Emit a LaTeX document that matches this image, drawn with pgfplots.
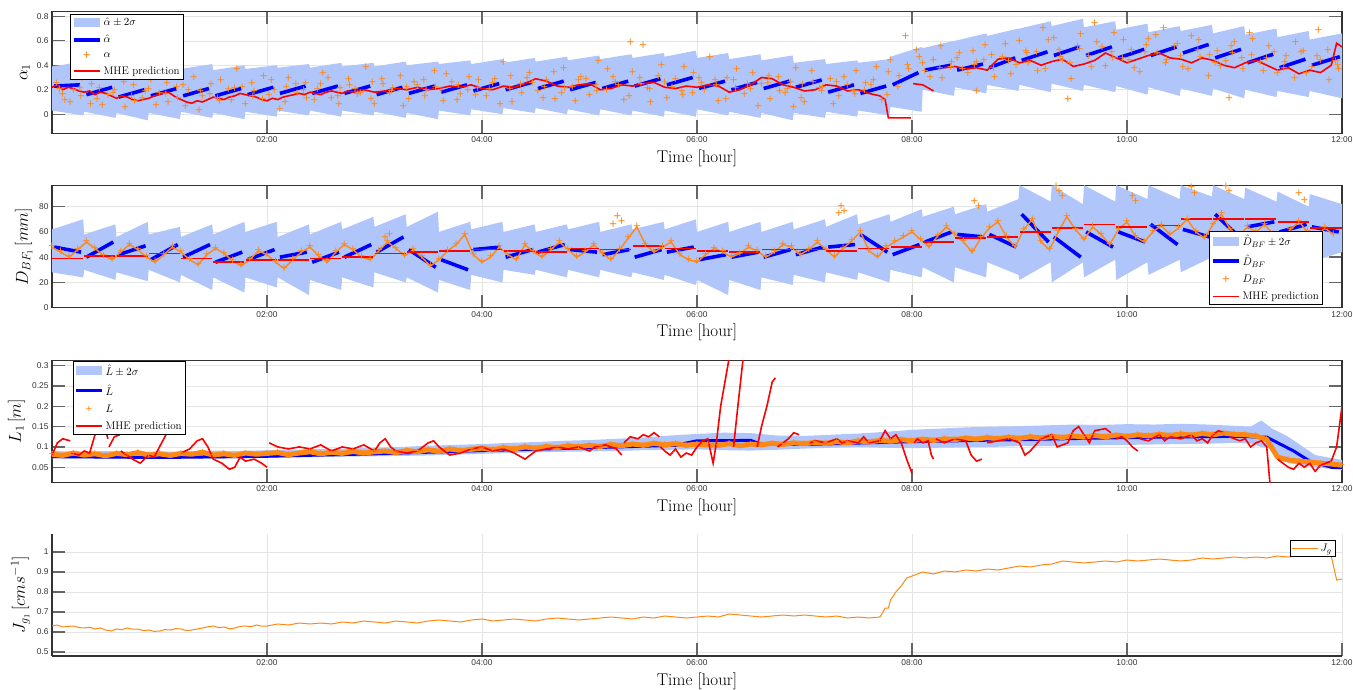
\documentclass[border=0pt]{standalone}
\usepackage{fontspec}
\usepackage{pgfplots}
\usepackage{pgfplotstable}
\pgfplotsset{compat=1.18}
\newfontfamily\ticksf{Liberation Sans}
\definecolor{bandblue}{RGB}{176,198,250}
\definecolor{mblue}{RGB}{0,0,255}
\definecolor{mred}{RGB}{255,0,0}
\definecolor{morange}{RGB}{255,135,20}
\definecolor{morangeB}{RGB}{255,136,21}
\newcommand\omark{\textcolor{morange}{\ticksf\fontsize{13}{13}\selectfont +}}
\newcommand\osmall{\textcolor{morange}{\ticksf\fontsize{10.5}{11}\selectfont +}}

\pgfplotsset{
  panel/.style={
    scale only axis, width=1290pt, height=122pt,
    xmin=0, xmax=12,
    xtick={2,4,6,8,10,12},
    xticklabels={02:00,04:00,06:00,08:00,10:00,12:00},
    tick align=inside,
    major tick length=13pt,
    major tick style={line width=1.4pt, draw=black!60},
    axis line style={line width=1.2pt, draw=black!80},
    grid=major,
    major grid style={line width=0.5pt, draw=black!10},
    ticklabel style={font=\ticksf\fontsize{8.4}{9}\selectfont, text=black!80},
    /pgf/number format/assume math mode=true,
    scaled y ticks=false,
    xlabel={Time [hour]},
    label style={font=\fontsize{17}{18}\selectfont},
    unbounded coords=jump,
    legend style={font=\fontsize{11}{12}\selectfont, draw=black, line width=0.8pt,
      fill=white, inner sep=1.5pt, row sep=4pt, cells={anchor=west}},
    legend image code/.code={\draw[#1] plot coordinates {(0pt,0pt) (13pt,0pt) (26pt,0pt)};},
  },
  bandleg/.style={legend image code/.code={\fill[fill=bandblue] (0pt,-4.5pt) rectangle (26pt,4.5pt);}},
  markleg/.style={legend image code/.code={\draw[#1] plot coordinates {(13pt,0pt)};}},
  estline/.style={draw=mblue, line width=3.6pt},
  mheline/.style={draw=mred, line width=1.6pt},
  meas/.style={only marks, mark=text, text mark={\omark}, markleg},
  smallmeas/.style={only marks, mark=text, text mark={\osmall}, markleg},
}

\pgfplotstableread{
t L
0 0.082
0.1 0.079
0.2 0.085
0.3 0.080
0.4 0.083
0.5 0.078
0.6 0.084
0.7 0.081
0.8 0.086
0.9 0.080
1.0 0.083
1.1 0.079
1.2 0.084
1.3 0.082
1.4 0.087
1.5 0.080
1.6 0.083
1.7 0.079
1.8 0.085
1.9 0.082
2.0 0.084
2.1 0.086
2.2 0.081
2.3 0.085
2.4 0.088
2.5 0.083
2.6 0.087
2.7 0.084
2.8 0.089
2.9 0.085
3.0 0.088
3.1 0.090
3.2 0.086
3.3 0.091
3.4 0.088
3.5 0.093
3.6 0.089
3.7 0.095
3.8 0.091
3.9 0.094
4.0 0.097
4.1 0.093
4.2 0.098
4.3 0.095
4.4 0.100
4.5 0.097
4.6 0.101
4.7 0.098
4.8 0.103
4.9 0.100
5.0 0.104
5.1 0.101
5.2 0.106
5.3 0.103
5.4 0.107
5.5 0.104
5.6 0.109
5.7 0.105
5.8 0.108
5.9 0.104
6.0 0.107
6.1 0.105
6.2 0.104
6.3 0.108
6.4 0.103
6.5 0.107
6.6 0.105
6.7 0.109
6.8 0.106
6.9 0.110
7.0 0.108
7.1 0.111
7.2 0.109
7.3 0.113
7.4 0.110
7.5 0.115
7.6 0.112
7.7 0.116
7.8 0.114
7.9 0.118
8.0 0.115
8.1 0.119
8.2 0.116
8.3 0.120
8.4 0.118
8.5 0.122
8.6 0.119
8.7 0.123
8.8 0.120
8.9 0.124
9.0 0.121
9.1 0.125
9.2 0.122
9.3 0.126
9.4 0.123
9.5 0.127
9.6 0.124
9.7 0.128
9.8 0.125
9.9 0.129
10.0 0.126
10.1 0.130
10.2 0.127
10.3 0.131
10.4 0.128
10.5 0.132
10.6 0.129
10.7 0.133
10.8 0.130
10.9 0.134
11.0 0.131
11.1 0.130
11.2 0.127
11.3 0.118
11.4 0.075
11.5 0.068
11.6 0.065
11.7 0.063
11.8 0.060
11.9 0.058
12.0 0.055
}\Ltable

\pgfplotstableread{
t D
0 48
0.08 44
0.16 40
0.24 46
0.32 52
0.40 47
0.48 41
0.56 38
0.64 44
0.72 50
0.80 46
0.88 40
0.96 36
1.04 42
1.12 48
1.20 44
1.28 38
1.36 34
1.44 42
1.52 47
1.60 43
1.68 37
1.76 33
1.84 38
1.92 45
2.00 42
2.08 36
2.16 31
2.24 38
2.32 44
2.40 48
2.48 41
2.56 36
2.64 44
2.72 50
2.80 46
2.88 40
2.96 38
3.04 45
3.12 52
3.20 47
3.28 41
3.36 46
3.44 40
3.52 33
3.60 38
3.68 45
3.76 50
3.84 58
3.92 42
4.00 36
4.08 40
4.16 48
4.24 42
4.32 38
4.40 50
4.48 44
4.56 40
4.64 46
4.72 52
4.80 46
4.88 40
4.96 44
5.04 50
5.12 43
5.20 38
5.28 46
5.36 55
5.44 64
5.52 50
5.60 44
5.68 48
5.76 52
5.84 42
5.92 38
6.00 36
6.08 42
6.16 47
6.24 44
6.32 40
6.40 43
6.48 48
6.56 45
6.64 40
6.72 44
6.80 50
6.88 48
6.96 42
7.04 46
7.12 52
7.20 46
7.28 40
7.36 47
7.44 53
7.52 60
7.60 45
7.68 40
7.76 48
7.84 52
7.92 56
8.00 60
8.08 54
8.16 48
8.24 57
8.32 64
8.40 58
8.48 52
8.56 44
8.64 55
8.72 63
8.80 68
8.88 56
8.96 48
9.04 62
9.12 70
9.20 52
9.28 46
9.36 60
9.44 72
9.52 62
9.60 54
9.68 64
9.76 58
9.84 50
9.92 62
10.00 68
10.08 56
10.16 52
10.24 60
10.32 65
10.40 58
10.48 63
10.56 70
10.64 60
10.72 55
10.80 66
10.88 74
10.96 62
11.04 57
11.12 64
11.20 60
11.28 66
11.36 58
11.44 54
11.52 62
11.60 68
11.68 60
11.76 56
11.84 63
11.92 58
}\Dtable

\begin{document}
\begin{tikzpicture}
\useasboundingbox (0,0) rectangle (1353pt,689pt);

% ---------------- alpha ----------------
\begin{axis}[panel, at={(52pt,555.7pt)}, anchor=south west,
  ymin=-0.156, ymax=0.841,
  ytick={0,0.2,0.4,0.6,0.8}, yticklabels={0,0.2,0.4,0.6,0.8},
  ylabel={$\alpha_1$},
  legend style={at={(0.014,0.975)}, anchor=north west}]
\addplot[draw=none, fill=bandblue, bandleg] coordinates {
(0,0.39)(0.29,0.43)(0.3,0.37)(0.59,0.41)(0.6,0.36)(0.89,0.40)(0.9,0.37)(1.19,0.40)(1.2,0.37)(1.49,0.41)
(1.5,0.36)(1.79,0.40)(1.8,0.37)(2.09,0.40)(2.1,0.38)(2.39,0.41)(2.4,0.38)(2.69,0.42)(2.7,0.39)(2.99,0.42)
(3.0,0.39)(3.29,0.43)(3.3,0.40)(3.59,0.43)(3.6,0.41)(3.89,0.44)(3.9,0.41)(4.19,0.45)(4.2,0.42)(4.49,0.46)
(4.5,0.43)(4.79,0.47)(4.8,0.44)(5.09,0.48)(5.1,0.45)(5.39,0.49)(5.4,0.46)(5.69,0.50)(5.7,0.47)(5.99,0.52)
(6.0,0.46)(6.29,0.50)(6.3,0.45)(6.59,0.49)(6.6,0.44)(6.89,0.48)(6.9,0.42)(7.19,0.45)(7.2,0.41)(7.49,0.44)
(7.5,0.42)(7.79,0.45)(7.8,0.47)(8.09,0.55)(8.1,0.54)(8.39,0.60)(8.4,0.60)(8.69,0.66)(8.7,0.64)(8.99,0.70)
(9.0,0.70)(9.29,0.76)(9.3,0.72)(9.59,0.78)(9.6,0.71)(9.89,0.76)(9.9,0.69)(10.19,0.74)(10.2,0.67)(10.49,0.72)
(10.5,0.68)(10.79,0.73)(10.8,0.66)(11.09,0.72)(11.1,0.65)(11.39,0.70)(11.4,0.63)(11.69,0.68)(11.7,0.61)(12,0.66)
(12,0.13)(11.7,0.19)(11.69,0.14)(11.4,0.19)(11.39,0.14)(11.1,0.20)(11.09,0.13)(10.8,0.21)(10.79,0.15)(10.5,0.21)
(10.49,0.15)(10.2,0.22)(10.19,0.16)(9.9,0.23)(9.89,0.18)(9.6,0.24)(9.59,0.19)(9.3,0.25)(9.29,0.18)(9.0,0.24)
(8.99,0.19)(8.7,0.24)(8.69,0.17)(8.4,0.22)(8.39,0.15)(8.1,0.20)(8.09,0.02)(7.8,0.06)(7.79,-0.01)(7.5,0.03)
(7.49,-0.02)(7.2,0.02)(7.19,-0.03)(6.9,0.01)(6.89,-0.05)(6.6,0.01)(6.59,-0.03)(6.3,0.02)(6.29,-0.01)(6.0,0.04)
(5.99,-0.02)(5.7,0.03)(5.69,-0.02)(5.4,0.03)(5.39,-0.01)(5.1,0.04)(5.09,-0.01)(4.8,0.04)(4.79,0.00)(4.5,0.05)
(4.49,0.01)(4.2,0.05)(4.19,0.00)(3.9,0.04)(3.89,-0.01)(3.6,0.03)(3.59,-0.04)(3.3,0.01)(3.29,-0.03)(3.0,0.02)
(2.99,-0.01)(2.7,0.03)(2.69,-0.02)(2.4,0.03)(2.39,-0.01)(2.1,0.03)(2.09,-0.02)(1.8,0.02)(1.79,-0.04)(1.5,0.01)
(1.49,-0.03)(1.2,0.02)(1.19,-0.04)(0.9,0.01)(0.89,-0.05)(0.6,0.01)(0.59,-0.03)(0.3,0.02)(0.29,-0.01)(0,0.03)
};
\addlegendentry{$\hat{\alpha}\pm 2\sigma$}
\addplot[estline] coordinates {
(0.02,0.23)(0.26,0.24)(0.27,nan)(0.32,0.16)(0.56,0.22)(0.57,nan)(0.62,0.14)(0.86,0.20)(0.87,nan)
(0.92,0.15)(1.16,0.21)(1.17,nan)(1.22,0.15)(1.46,0.21)(1.47,nan)(1.52,0.15)(1.76,0.21)(1.77,nan)
(1.82,0.16)(2.06,0.22)(2.07,nan)(2.12,0.17)(2.36,0.23)(2.37,nan)(2.42,0.17)(2.66,0.23)(2.67,nan)
(2.72,0.17)(2.96,0.23)(2.97,nan)(3.02,0.16)(3.26,0.22)(3.27,nan)(3.32,0.17)(3.56,0.23)(3.57,nan)
(3.62,0.18)(3.86,0.24)(3.87,nan)(3.92,0.19)(4.16,0.25)(4.17,nan)(4.22,0.20)(4.46,0.26)(4.47,nan)
(4.52,0.21)(4.76,0.27)(4.77,nan)(4.82,0.20)(5.06,0.26)(5.07,nan)(5.12,0.21)(5.36,0.27)(5.37,nan)
(5.42,0.23)(5.66,0.29)(5.67,nan)(5.72,0.24)(5.96,0.30)(5.97,nan)(6.02,0.21)(6.26,0.27)(6.27,nan)
(6.32,0.20)(6.56,0.26)(6.57,nan)(6.62,0.21)(6.86,0.27)(6.87,nan)(6.92,0.22)(7.16,0.28)(7.17,nan)
(7.22,0.18)(7.46,0.24)(7.47,nan)(7.52,0.17)(7.76,0.23)(7.77,nan)(7.82,0.24)(8.06,0.34)(8.07,nan)
(8.12,0.36)(8.36,0.40)(8.37,nan)(8.42,0.36)(8.66,0.41)(8.67,nan)(8.72,0.38)(8.96,0.46)(8.97,nan)
(9.02,0.44)(9.26,0.51)(9.27,nan)(9.32,0.48)(9.56,0.55)(9.57,nan)(9.62,0.48)(9.86,0.55)(9.87,nan)
(9.92,0.46)(10.16,0.53)(10.17,nan)(10.22,0.48)(10.46,0.55)(10.47,nan)(10.52,0.50)(10.76,0.57)(10.77,nan)
(10.82,0.46)(11.06,0.53)(11.07,nan)(11.12,0.42)(11.36,0.49)(11.37,nan)(11.42,0.38)(11.66,0.45)(11.67,nan)
(11.72,0.40)(11.98,0.47)
};
\addlegendentry{$\hat{\alpha}$}
\addplot[meas] coordinates {
(0.04,0.25)(0.12,0.11)(0.20,0.19)(0.28,0.29)(0.36,0.08)(0.44,0.21)(0.52,0.15)(0.60,0.32)(0.68,0.05)(0.76,0.23)
(0.84,0.13)(0.92,0.27)(1.00,0.17)(1.08,0.09)(1.16,0.22)(1.24,0.06)(1.32,0.30)(1.40,0.14)(1.48,0.24)(1.56,0.10)
(1.64,0.20)(1.72,0.36)(1.80,0.08)(1.88,0.18)(1.96,0.12)(2.04,0.27)(2.12,0.04)(2.20,0.29)(2.28,0.17)(2.36,0.25)
(2.44,0.11)(2.52,0.33)(2.60,0.13)(2.68,0.21)(2.76,0.28)(2.84,0.16)(2.92,0.38)(3.00,0.08)(3.08,0.24)(3.16,0.18)
(3.24,0.31)(3.32,0.12)(3.40,0.23)(3.48,0.19)(3.56,0.35)(3.64,0.10)(3.72,0.26)(3.80,0.16)(3.88,0.30)(3.96,0.21)
(4.04,0.14)(4.12,0.28)(4.20,0.42)(4.28,0.09)(4.36,0.24)(4.44,0.33)(4.52,0.18)(4.60,0.27)(4.68,0.12)(4.76,0.37)
(4.84,0.22)(4.92,0.30)(5.00,0.15)(5.08,0.43)(5.16,0.19)(5.24,0.26)(5.32,0.11)(5.40,0.34)(5.48,0.24)(5.56,0.20)
(5.64,0.31)(5.72,0.13)(5.80,0.28)(5.88,0.38)(5.96,0.17)(6.04,0.25)(6.12,0.46)(6.20,0.10)(6.28,0.29)(6.36,0.21)
(6.44,0.16)(6.52,0.33)(6.60,0.24)(6.68,0.12)(6.76,0.30)(6.84,0.20)(6.92,0.37)(7.00,0.09)(7.08,0.26)(7.16,0.18)
(7.24,0.28)(7.32,0.14)(7.40,0.23)(7.48,0.35)(7.56,0.19)(7.64,0.27)(7.72,0.11)(7.80,0.44)(7.88,0.31)(7.96,0.40)
(8.04,0.52)(8.12,0.35)(8.20,0.44)(8.28,0.29)(8.36,0.38)(8.44,0.49)(8.52,0.33)(8.60,0.42)(8.68,0.56)(8.76,0.37)
(8.84,0.46)(8.92,0.32)(9.00,0.59)(9.08,0.41)(9.16,0.50)(9.24,0.36)(9.32,0.62)(9.40,0.44)(9.48,0.28)(9.56,0.53)
(9.64,0.47)(9.72,0.58)(9.80,0.39)(9.88,0.66)(9.96,0.45)(10.04,0.52)(10.12,0.34)(10.20,0.61)(10.28,0.49)(10.36,0.41)
(10.44,0.55)(10.52,0.38)(10.60,0.63)(10.68,0.46)(10.76,0.31)(10.84,0.51)(10.92,0.43)(11.00,0.58)(11.08,0.36)(11.16,0.48)
(11.24,0.42)(11.32,0.55)(11.40,0.33)(11.48,0.47)(11.56,0.29)(11.64,0.51)(11.72,0.38)(11.80,0.44)(11.88,0.27)(11.96,0.40)
(0.10,0.16)(0.26,0.21)(0.42,0.12)(0.58,0.19)(0.74,0.14)(0.90,0.20)(1.06,0.16)(1.22,0.23)(1.38,0.18)(1.54,0.13)
(1.70,0.21)(1.86,0.25)(2.02,0.15)(2.18,0.22)(2.34,0.19)(2.50,0.24)(2.66,0.14)(2.82,0.20)(2.98,0.26)(3.14,0.17)
(3.30,0.22)(3.46,0.27)(3.62,0.19)(3.78,0.23)(3.94,0.15)(4.10,0.25)(4.26,0.20)(4.42,0.29)(4.58,0.22)(4.74,0.17)
(4.90,0.27)(5.06,0.23)(5.22,0.30)(5.38,0.58)(5.54,0.21)(5.70,0.26)(5.86,0.18)(6.02,0.29)(6.18,0.23)(6.34,0.27)
(6.50,0.20)(6.66,0.25)(6.82,0.17)(6.98,0.24)(7.14,0.21)(7.30,0.26)(7.46,0.18)(7.62,0.23)(7.78,0.34)(7.94,0.63)
(8.10,0.41)(8.26,0.37)(8.42,0.45)(8.58,0.40)(8.74,0.48)(8.90,0.43)(9.06,0.51)(9.22,0.70)(9.38,0.46)(9.54,0.55)
(9.70,0.74)(9.86,0.50)(10.02,0.44)(10.18,0.56)(10.34,0.70)(10.50,0.47)(10.66,0.52)(10.82,0.41)(10.98,0.49)(11.14,0.66)
(11.30,0.45)(11.46,0.37)(11.62,0.50)(11.78,0.68)(11.94,0.43)(9.45,0.12)(10.95,0.13)(8.6,0.18)(5.5,0.56)(6.9,0.05)
(0.07,0.20)(0.17,0.09)(0.27,0.14)(0.37,0.24)(0.47,0.07)(0.57,0.17)(0.67,0.26)(0.77,0.10)(0.87,0.18)(0.97,0.07)
(1.07,0.25)(1.17,0.13)(1.27,0.19)(1.37,0.03)(1.47,0.16)(1.57,0.27)(1.67,0.11)(1.77,0.22)(1.87,0.14)(1.97,0.31)
(2.07,0.19)(2.17,0.09)(2.27,0.24)(2.37,0.13)(2.47,0.20)(2.57,0.29)(2.67,0.08)(2.77,0.23)(2.87,0.17)(2.97,0.12)
(3.07,0.28)(3.17,0.21)(3.27,0.06)(3.37,0.26)(3.47,0.14)(3.57,0.22)(3.67,0.32)(3.77,0.11)(3.87,0.19)(3.97,0.27)
(4.07,0.20)(4.17,0.08)(4.27,0.31)(4.37,0.17)(4.47,0.25)(4.57,0.13)(4.67,0.34)(4.77,0.21)(4.87,0.10)(4.97,0.28)
(5.07,0.18)(5.17,0.36)(5.27,0.23)(5.37,0.14)(5.47,0.29)(5.57,0.09)(5.67,0.40)(5.77,0.22)(5.87,0.15)(5.97,0.33)
(6.07,0.19)(6.17,0.27)(6.27,0.12)(6.37,0.36)(6.47,0.24)(6.57,0.06)(6.67,0.31)(6.77,0.18)(6.87,0.26)(6.97,0.13)
(7.07,0.35)(7.17,0.22)(7.27,0.08)(7.37,0.30)(7.47,0.16)(7.57,0.25)(7.67,0.38)(7.77,0.15)(7.87,0.22)(7.97,0.36)
(8.07,0.46)(8.17,0.30)(8.27,0.55)(8.37,0.42)(8.47,0.36)(8.57,0.51)(8.67,0.44)(8.77,0.30)(8.87,0.57)(8.97,0.40)
(9.07,0.49)(9.17,0.35)(9.27,0.60)(9.37,0.52)(9.47,0.41)(9.57,0.65)(9.67,0.38)(9.77,0.54)(9.87,0.45)(9.97,0.60)
(10.07,0.37)(10.17,0.50)(10.27,0.64)(10.37,0.44)(10.47,0.57)(10.57,0.36)(10.67,0.60)(10.77,0.48)(10.87,0.39)(10.97,0.55)
(11.07,0.45)(11.17,0.61)(11.27,0.35)(11.37,0.50)(11.47,0.42)(11.57,0.58)(11.67,0.33)(11.77,0.47)(11.87,0.52)(11.97,0.36)
};
\addlegendentry{$\alpha$}
\addplot[mheline] coordinates {
(0,0.22)(0.05,0.24)(0.1,0.20)(0.15,0.22)(0.2,0.21)(0.25,0.19)(0.3,0.18)(0.35,0.19)(0.4,0.16)(0.45,0.18)
(0.5,0.17)(0.55,0.15)(0.6,0.13)(0.65,0.15)(0.7,0.14)(0.75,0.12)(0.8,0.11)(0.85,0.12)(0.9,0.13)(0.95,0.15)
(1.0,0.16)(1.05,0.18)(1.1,0.17)(1.15,0.14)(1.2,0.12)(1.25,0.10)(1.3,0.09)(1.35,0.11)(1.4,0.10)(1.45,0.12)
(1.5,0.14)(1.55,0.13)(1.6,0.12)(1.65,0.14)(1.7,0.15)(1.75,0.17)(1.8,0.16)(1.85,0.15)(1.9,0.14)(1.95,0.12)
(2.0,0.11)(2.05,0.13)(2.1,0.12)(2.15,0.14)(2.2,0.15)(2.25,0.16)(2.3,0.17)(2.35,0.16)(2.4,0.18)(2.45,0.17)
(2.5,0.16)(2.55,0.18)(2.6,0.19)(2.65,0.18)(2.7,0.17)(2.75,0.19)(2.8,0.18)(2.85,0.19)(2.9,0.20)(2.95,0.19)
(3.0,0.18)(3.1,0.19)(3.2,0.21)(3.3,0.20)(3.4,0.22)(3.5,0.20)(3.6,0.21)(3.7,0.23)(3.8,0.22)(3.9,0.24)
(4.0,0.21)(4.1,0.20)(4.2,0.23)(4.3,0.22)(4.4,0.25)(4.5,0.29)(4.6,0.27)(4.7,0.23)(4.8,0.22)(4.9,0.24)
(5.0,0.25)(5.1,0.20)(5.2,0.21)(5.3,0.24)(5.4,0.23)(5.5,0.25)(5.6,0.26)(5.7,0.22)(5.8,0.21)(5.9,0.23)
(6.0,0.22)(6.1,0.24)(6.2,0.23)(6.3,0.18)(6.4,0.20)(6.5,0.24)(6.6,0.30)(6.7,0.29)(6.8,0.24)(6.9,0.22)
(7.0,0.19)(7.1,0.20)(7.2,0.24)(7.3,0.23)(7.4,0.19)(7.5,0.20)(7.6,0.17)(7.7,0.15)(7.75,0.12)(7.78,-0.03)
(7.99,-0.03)(8.0,nan)(8.01,0.25)(8.1,0.24)(8.2,0.19)(8.25,nan)(8.3,0.38)(8.4,0.39)(8.5,0.37)(8.6,0.38)(8.7,0.36)
(8.8,0.45)(8.9,0.46)(9.0,0.42)(9.1,0.44)(9.2,0.40)(9.3,0.43)(9.4,0.45)(9.5,0.39)(9.6,0.41)(9.7,0.44)
(9.8,0.50)(9.9,0.46)(10.0,0.42)(10.1,0.45)(10.2,0.48)(10.3,0.50)(10.4,0.46)(10.5,0.45)(10.6,0.42)(10.7,0.46)
(10.8,0.44)(10.9,0.40)(11.0,0.38)(11.1,0.42)(11.2,0.44)(11.3,0.40)(11.4,0.36)(11.5,0.38)(11.6,0.33)(11.7,0.36)
(11.8,0.34)(11.9,0.40)(11.95,0.58)(12,0.55)
};
\addlegendentry{MHE prediction}
\end{axis}

% ---------------- D_BF ----------------
\begin{axis}[panel, at={(52pt,381.3pt)}, anchor=south west,
  ymin=0, ymax=96.6,
  ytick={0,20,40,60,80}, yticklabels={0,20,40,60,80},
  ylabel={$D_{BF_1}\,[mm]$},
  legend style={at={(0.985,0.022)}, anchor=south east}]
\addplot[draw=none, fill=bandblue, bandleg] coordinates {
(0,62)(0.29,70)(0.3,58)(0.59,66)(0.6,56)(0.89,68)(0.9,58)(1.19,64)(1.2,56)(1.49,66)
(1.5,58)(1.79,68)(1.8,60)(2.09,68)(2.1,56)(2.39,66)(2.4,58)(2.69,68)(2.7,62)(2.99,72)
(3.0,64)(3.29,74)(3.3,64)(3.59,76)(3.6,60)(3.89,68)(3.9,62)(4.19,68)(4.2,60)(4.49,66)
(4.5,60)(4.79,66)(4.8,62)(5.09,68)(5.1,60)(5.39,66)(5.4,62)(5.69,68)(5.7,62)(5.99,70)
(6.0,60)(6.29,68)(6.3,60)(6.59,68)(6.6,60)(6.89,68)(6.9,62)(7.19,70)(7.2,64)(7.49,74)
(7.5,66)(7.79,74)(7.8,68)(8.09,78)(8.1,72)(8.39,80)(8.4,74)(8.69,82)(8.7,76)(8.99,86)
(9.0,97)(9.29,84)(9.3,97)(9.59,82)(9.6,97)(9.89,84)(9.9,97)(10.19,86)(10.2,97)(10.49,86)
(10.5,97)(10.79,88)(10.8,97)(11.09,86)(11.1,95)(11.39,84)(11.4,92)(11.69,80)(11.7,90)(12,82)
(12,44)(11.7,36)(11.69,40)(11.4,32)(11.39,40)(11.1,30)(11.09,40)(10.8,26)(10.79,40)(10.5,28)
(10.49,38)(10.2,26)(10.19,36)(9.9,22)(9.89,38)(9.6,24)(9.59,36)(9.3,20)(9.29,36)(9.0,22)
(8.99,26)(8.7,36)(8.69,24)(8.4,32)(8.39,20)(8.1,32)(8.09,24)(7.8,30)(7.79,20)(7.5,28)
(7.49,22)(7.2,28)(7.19,20)(6.9,26)(6.89,18)(6.6,24)(6.59,14)(6.3,22)(6.29,10)(6.0,22)
(5.99,18)(5.7,26)(5.69,22)(5.4,28)(5.39,24)(5.1,30)(5.09,24)(4.8,30)(4.79,24)(4.5,30)
(4.49,26)(4.2,30)(4.19,20)(3.9,26)(3.89,14)(3.6,22)(3.59,12)(3.3,24)(3.29,20)(3.0,28)
(2.99,16)(2.7,24)(2.69,14)(2.4,22)(2.39,10)(2.1,24)(2.09,16)(1.8,24)(1.79,12)(1.5,24)
(1.49,14)(1.2,26)(1.19,20)(0.9,30)(0.89,21)(0.6,28)(0.59,22)(0.3,30)(0.29,24)(0,28)
};
\addlegendentry{$\hat{D}_{BF}\pm 2\sigma$}
\addplot[estline] coordinates {
(0.02,48)(0.27,44)(0.28,nan)(0.32,40)(0.57,52)(0.58,nan)(0.62,42)(0.87,49)(0.88,nan)
(0.92,38)(1.17,50)(1.18,nan)(1.22,40)(1.47,50)(1.48,nan)(1.52,36)(1.77,44)(1.78,nan)
(1.82,38)(2.07,46)(2.08,nan)(2.12,40)(2.37,44)(2.38,nan)(2.42,36)(2.67,44)(2.68,nan)
(2.72,40)(2.97,50)(2.98,nan)(3.02,44)(3.27,56)(3.28,nan)(3.32,46)(3.57,32)(3.58,nan)
(3.62,38)(3.87,30)(3.88,nan)(3.92,46)(4.17,48)(4.18,nan)(4.22,40)(4.47,46)(4.48,nan)
(4.52,44)(4.77,50)(4.78,nan)(4.82,46)(5.07,44)(5.08,nan)(5.12,42)(5.37,46)(5.38,nan)
(5.42,40)(5.67,46)(5.68,nan)(5.72,44)(5.97,48)(5.98,nan)(6.02,38)(6.27,42)(6.28,nan)
(6.32,40)(6.57,44)(6.58,nan)(6.62,40)(6.87,46)(6.88,nan)(6.92,42)(7.17,48)(7.18,nan)
(7.22,48)(7.47,50)(7.48,nan)(7.52,58)(7.77,44)(7.78,nan)(7.82,42)(8.07,50)(8.08,nan)
(8.12,52)(8.37,60)(8.38,nan)(8.42,58)(8.67,56)(8.68,nan)(8.72,58)(8.97,48)(8.98,nan)
(9.02,74)(9.27,52)(9.28,nan)(9.32,56)(9.57,40)(9.58,nan)(9.62,60)(9.87,48)(9.88,nan)
(9.92,60)(10.17,52)(10.18,nan)(10.22,66)(10.47,50)(10.48,nan)(10.52,62)(10.77,56)(10.78,nan)
(10.82,74)(11.07,54)(11.08,nan)(11.12,64)(11.37,68)(11.38,nan)(11.42,60)(11.67,66)(11.68,nan)
(11.72,64)(11.97,60)
};
\addlegendentry{$\hat{D}_{BF}$}
\addplot[draw=morangeB, line width=1.4pt, forget plot] table[x=t, y=D] {\Dtable};
\addplot[meas] table[x=t, y=D] {\Dtable};
\addlegendentry{$D_{BF}$}
\addplot[meas, forget plot] coordinates {
(3.1,55)(3.14,58)(5.22,66)(5.26,72)(5.3,68)(7.32,74)(7.34,80)(7.37,76)(8.58,84)(8.62,80)
(9.34,96)(9.37,92)(9.4,88)(10.05,88)(10.08,84)(10.6,95)(10.63,90)(10.92,96)(10.95,92)(11.6,90)(11.65,85)
};
\addplot[mheline] coordinates {
(0,39)(0.29,39)(0.295,nan)(0.3,41)(0.59,41)(0.595,nan)(0.6,41)(0.89,41)(0.895,nan)(0.9,43)(1.19,43)(1.195,nan)
(1.2,39)(1.49,39)(1.495,nan)(1.5,36)(1.79,36)(1.795,nan)(1.8,38)(2.09,38)(2.095,nan)(2.1,38)(2.39,38)(2.395,nan)
(2.4,39)(2.69,39)(2.695,nan)(2.7,40)(2.99,40)(2.995,nan)(3.0,43)(3.29,43)(3.295,nan)(3.3,44)(3.59,44)(3.595,nan)
(3.6,45)(3.89,45)(3.895,nan)(3.9,46)(4.19,46)(4.195,nan)(4.2,45)(4.49,45)(4.495,nan)(4.5,44)(4.79,44)(4.795,nan)
(4.8,47)(5.09,47)(5.095,nan)(5.1,46)(5.39,46)(5.395,nan)(5.4,49)(5.69,49)(5.695,nan)(5.7,47)(5.99,47)(5.995,nan)
(6.0,45)(6.29,45)(6.295,nan)(6.3,44)(6.59,44)(6.595,nan)(6.6,46)(6.89,46)(6.895,nan)(6.9,46)(7.19,46)(7.195,nan)
(7.2,45)(7.49,45)(7.495,nan)(7.5,47)(7.79,47)(7.795,nan)(7.8,48)(8.09,48)(8.095,nan)(8.1,52)(8.39,52)(8.395,nan)
(8.4,55)(8.69,55)(8.695,nan)(8.7,56)(8.99,56)(8.995,nan)(9.0,60)(9.29,60)(9.295,nan)(9.3,63)(9.59,63)(9.595,nan)
(9.6,66)(9.89,66)(9.895,nan)(9.9,64)(10.19,64)(10.195,nan)(10.2,65)(10.49,65)(10.495,nan)(10.5,70)(10.79,70)(10.795,nan)
(10.8,70)(11.09,70)(11.095,nan)(11.1,70)(11.39,70)(11.395,nan)(11.4,68)(11.69,68)(11.695,nan)(11.7,63)(12,63)
};
\addlegendentry{MHE prediction}
\end{axis}

% ---------------- L ----------------
\begin{axis}[panel, at={(52pt,206.7pt)}, anchor=south west,
  ymin=0.013, ymax=0.313,
  ytick={0.05,0.1,0.15,0.2,0.25,0.3}, yticklabels={0.05,0.1,0.15,0.2,0.25,0.3},
  ylabel={$L_1\,[m]$},
  legend style={at={(0.016,0.995)}, anchor=north west}]
\addplot[draw=none, fill=bandblue, bandleg] coordinates {
(0,0.090)(0.25,0.088)(0.5,0.090)(0.75,0.087)(1,0.089)(1.25,0.088)(1.5,0.091)(1.75,0.090)(2,0.092)(2.25,0.093)
(2.5,0.095)(2.75,0.096)(3,0.098)(3.25,0.100)(3.5,0.103)(3.75,0.105)(4,0.107)(4.25,0.110)(4.5,0.112)(4.75,0.115)
(5,0.117)(5.25,0.120)(5.5,0.123)(5.75,0.128)(6,0.132)(6.25,0.135)(6.5,0.134)(6.75,0.128)(7,0.127)(7.25,0.130)
(7.5,0.133)(7.75,0.137)(8,0.142)(8.25,0.145)(8.5,0.148)(8.75,0.150)(9,0.151)(9.25,0.153)(9.5,0.155)(9.75,0.154)
(10,0.156)(10.25,0.155)(10.5,0.157)(10.75,0.155)(11,0.152)(11.15,0.150)(11.25,0.165)(11.35,0.145)(11.5,0.125)(11.75,0.080)(12,0.068)
(12,0.043)(11.75,0.050)(11.5,0.060)(11.35,0.095)(11.25,0.100)(11.15,0.108)(11,0.110)(10.75,0.108)(10.5,0.107)(10.25,0.106)
(10,0.105)(9.75,0.104)(9.5,0.103)(9.25,0.102)(9,0.102)(8.75,0.100)(8.5,0.099)(8.25,0.098)(8,0.097)(7.75,0.098)
(7.5,0.100)(7.25,0.098)(7,0.096)(6.75,0.093)(6.5,0.091)(6.25,0.092)(6,0.094)(5.75,0.093)(5.5,0.092)(5.25,0.090)
(5,0.089)(4.75,0.088)(4.5,0.087)(4.25,0.085)(4,0.083)(3.75,0.081)(3.5,0.079)(3.25,0.078)(3,0.077)(2.75,0.076)
(2.5,0.075)(2.25,0.074)(2,0.073)(1.75,0.072)(1.5,0.071)(1.25,0.072)(1,0.071)(0.75,0.072)(0.5,0.071)(0.25,0.072)(0,0.072)
};
\addlegendentry{$\hat{L}\pm 2\sigma$}
\addplot[draw=mblue, line width=3pt] coordinates {
(0,0.076)(1,0.074)(2,0.077)(3,0.083)(4,0.091)(5,0.098)(5.8,0.104)(6.0,0.115)(6.5,0.116)(6.6,0.106)
(7.0,0.106)(8,0.113)(9,0.118)(10,0.123)(11,0.126)(11.3,0.124)(11.55,0.090)(11.7,0.065)(11.9,0.050)(12,0.050)
};
\addlegendentry{$\hat{L}$}
\addplot[draw=morangeB, line width=5pt, forget plot] table[x=t, y=L] {\Ltable};
\addplot[smallmeas] table[x=t, y=L] {\Ltable};
\addlegendentry{$L$}
\addplot[mheline] coordinates {
(0,0.08)(0.05,0.11)(0.1,0.12)(0.17,0.115)(0.175,nan)
(0.18,0.085)(0.25,0.08)(0.3,0.09)(0.35,0.085)(0.4,0.13)(0.45,0.15)(0.5,0.14)(0.52,0.12)(0.525,nan)
(0.53,0.10)(0.58,0.125)(0.63,0.13)(0.635,nan)
(0.64,0.09)(0.75,0.07)(0.82,0.06)(0.9,0.08)(0.95,0.075)(1.0,0.10)(1.08,0.14)(1.12,0.145)(1.17,0.135)(1.175,nan)
(1.2,0.085)(1.28,0.095)(1.35,0.115)(1.4,0.12)(1.45,0.10)(1.5,0.07)(1.58,0.06)(1.65,0.045)(1.7,0.05)(1.75,0.075)
(1.8,0.065)(1.88,0.07)(1.95,0.06)(2.0,0.05)(2.01,nan)
(2.02,0.11)(2.1,0.10)(2.2,0.095)(2.3,0.10)(2.4,0.095)(2.5,0.105)(2.6,0.09)(2.7,0.10)(2.8,0.095)(2.9,0.105)
(3.0,0.09)(3.05,0.11)(3.1,0.12)(3.15,0.10)(3.2,0.09)(3.3,0.085)(3.4,0.09)(3.5,0.11)(3.55,0.115)(3.6,0.10)
(3.7,0.08)(3.8,0.085)(3.9,0.095)(4.0,0.10)(4.1,0.09)(4.2,0.095)(4.3,0.085)(4.4,0.07)(4.5,0.09)(4.6,0.095)
(4.7,0.10)(4.8,0.095)(4.9,0.10)(5.0,0.09)(5.05,0.10)(5.15,0.105)(5.25,0.095)(5.3,0.08)(5.31,nan)
(5.32,0.11)(5.38,0.125)(5.45,0.12)(5.5,0.13)(5.55,0.125)(5.6,0.135)(5.65,0.125)(5.655,nan)
(5.66,0.10)(5.7,0.09)(5.75,0.08)(5.8,0.095)(5.85,0.075)(5.9,0.085)(5.95,0.08)(6.0,0.10)(6.05,0.115)(6.1,0.12)
(6.15,0.06)(6.18,0.11)(6.22,0.20)(6.3,0.32)(6.31,nan)
(6.34,0.10)(6.38,0.20)(6.43,0.32)(6.44,nan)
(6.56,0.10)(6.6,0.15)(6.65,0.20)(6.7,0.26)(6.73,0.27)(6.74,nan)
(6.75,0.10)(6.8,0.11)(6.85,0.12)(6.9,0.135)(6.95,0.13)(6.96,nan)
(7.05,0.11)(7.1,0.115)(7.2,0.11)(7.3,0.12)(7.35,0.11)(7.4,0.115)(7.5,0.11)(7.55,0.125)(7.6,0.11)(7.7,0.115)
(7.75,0.14)(7.8,0.12)(7.85,0.13)(7.9,0.11)(7.95,0.07)(8.0,0.035)(8.01,nan)
(8.02,0.11)(8.05,0.12)(8.1,0.11)(8.15,0.115)(8.18,0.08)(8.2,0.07)(8.21,nan)
(8.22,0.12)(8.3,0.11)(8.4,0.12)(8.5,0.115)(8.55,0.08)(8.6,0.065)(8.65,0.07)(8.66,nan)
(8.7,0.11)(8.8,0.115)(8.9,0.12)(9.0,0.11)(9.05,0.08)(9.1,0.09)(9.2,0.12)(9.3,0.13)(9.35,0.10)(9.45,0.11)
(9.5,0.14)(9.55,0.15)(9.6,0.13)(9.65,0.11)(9.7,0.14)(9.8,0.145)(9.85,0.135)(9.86,nan)
(9.9,0.12)(9.95,0.125)(10.0,0.115)(10.05,0.10)(10.1,0.09)(10.11,nan)
(10.12,0.12)(10.2,0.115)(10.3,0.13)(10.35,0.115)(10.4,0.125)(10.5,0.12)(10.6,0.13)(10.65,0.115)(10.7,0.12)(10.75,0.11)
(10.8,0.13)(10.85,0.14)(10.9,0.135)(10.91,nan)
(10.95,0.125)(11.0,0.12)(11.05,0.115)(11.1,0.12)(11.15,0.10)(11.2,0.11)(11.25,0.115)(11.3,0.10)(11.33,0.01)(11.34,nan)
(11.4,0.07)(11.45,0.06)(11.5,0.05)(11.55,0.045)(11.6,0.06)(11.65,0.05)(11.7,0.06)(11.75,0.04)(11.8,0.055)(11.85,0.06)
(11.9,0.065)(11.95,0.10)(11.98,0.16)(12,0.20)
};
\addlegendentry{MHE prediction}
\end{axis}

% ---------------- J_g ----------------
\begin{axis}[panel, at={(52pt,33pt)}, anchor=south west,
  axis x line*=bottom, axis y line*=left,
  axis line style={line width=1.2pt, draw=black!80, -},
  ymin=0.48, ymax=1.09,
  ytick={0.5,0.6,0.7,0.8,0.9,1}, yticklabels={0.5,0.6,0.7,0.8,0.9,1},
  ylabel={$J_{g_1}\,[cm s^{-1}]$},
  legend style={at={(0.995,0.95)}, anchor=north east}]
\addplot[draw=morange, line width=1pt] coordinates {
(0,0.63)(0.05,0.635)(0.1,0.625)(0.15,0.628)(0.2,0.63)(0.25,0.622)(0.3,0.62)(0.35,0.624)(0.4,0.615)(0.45,0.62)
(0.5,0.61)(0.55,0.605)(0.6,0.615)(0.65,0.612)(0.7,0.62)(0.75,0.614)(0.8,0.615)(0.85,0.607)(0.9,0.61)(0.95,0.603)
(1.0,0.605)(1.05,0.612)(1.1,0.61)(1.15,0.617)(1.2,0.615)(1.25,0.607)(1.3,0.61)(1.35,0.615)(1.4,0.62)(1.45,0.626)
(1.5,0.63)(1.55,0.622)(1.6,0.625)(1.65,0.616)(1.7,0.62)(1.75,0.628)(1.8,0.63)(1.85,0.626)(1.9,0.635)(1.95,0.629)
(2.0,0.63)(2.1,0.64)(2.2,0.635)(2.3,0.645)(2.4,0.64)(2.5,0.645)(2.6,0.64)(2.7,0.65)(2.8,0.645)(2.9,0.655)
(3.0,0.65)(3.1,0.645)(3.2,0.655)(3.3,0.65)(3.4,0.645)(3.5,0.655)(3.6,0.66)(3.7,0.655)(3.8,0.65)(3.9,0.66)
(4.0,0.665)(4.1,0.655)(4.2,0.66)(4.3,0.665)(4.4,0.66)(4.5,0.655)(4.6,0.665)(4.7,0.67)(4.8,0.665)(4.9,0.66)
(5.0,0.665)(5.1,0.67)(5.2,0.675)(5.3,0.67)(5.4,0.665)(5.5,0.675)(5.6,0.67)(5.7,0.68)(5.8,0.675)(5.9,0.67)
(6.0,0.675)(6.1,0.68)(6.2,0.675)(6.3,0.69)(6.4,0.685)(6.5,0.68)(6.6,0.675)(6.7,0.68)(6.8,0.685)(6.9,0.68)
(7.0,0.685)(7.1,0.68)(7.2,0.675)(7.3,0.68)(7.4,0.67)(7.5,0.675)(7.6,0.67)(7.7,0.675)(7.72,0.69)(7.75,0.72)
(7.78,0.72)(7.8,0.76)(7.85,0.80)(7.9,0.83)(7.95,0.87)(8.0,0.88)(8.1,0.90)(8.2,0.89)(8.3,0.905)(8.4,0.90)
(8.5,0.91)(8.6,0.905)(8.7,0.915)(8.8,0.91)(8.9,0.92)(9.0,0.93)(9.1,0.925)(9.2,0.935)(9.3,0.94)(9.4,0.955)
(9.5,0.95)(9.6,0.945)(9.7,0.95)(9.8,0.955)(9.9,0.95)(10.0,0.96)(10.1,0.955)(10.2,0.96)(10.3,0.965)(10.4,0.96)
(10.5,0.955)(10.6,0.96)(10.7,0.97)(10.8,0.965)(10.9,0.97)(11.0,0.975)(11.1,0.97)(11.2,0.975)(11.3,0.97)(11.4,0.98)
(11.5,0.975)(11.6,0.98)(11.7,0.985)(11.8,0.98)(11.9,0.98)(11.95,0.86)(12,0.865)
};
\addlegendentry{$J_g$}
\end{axis}
\end{tikzpicture}
\end{document}
